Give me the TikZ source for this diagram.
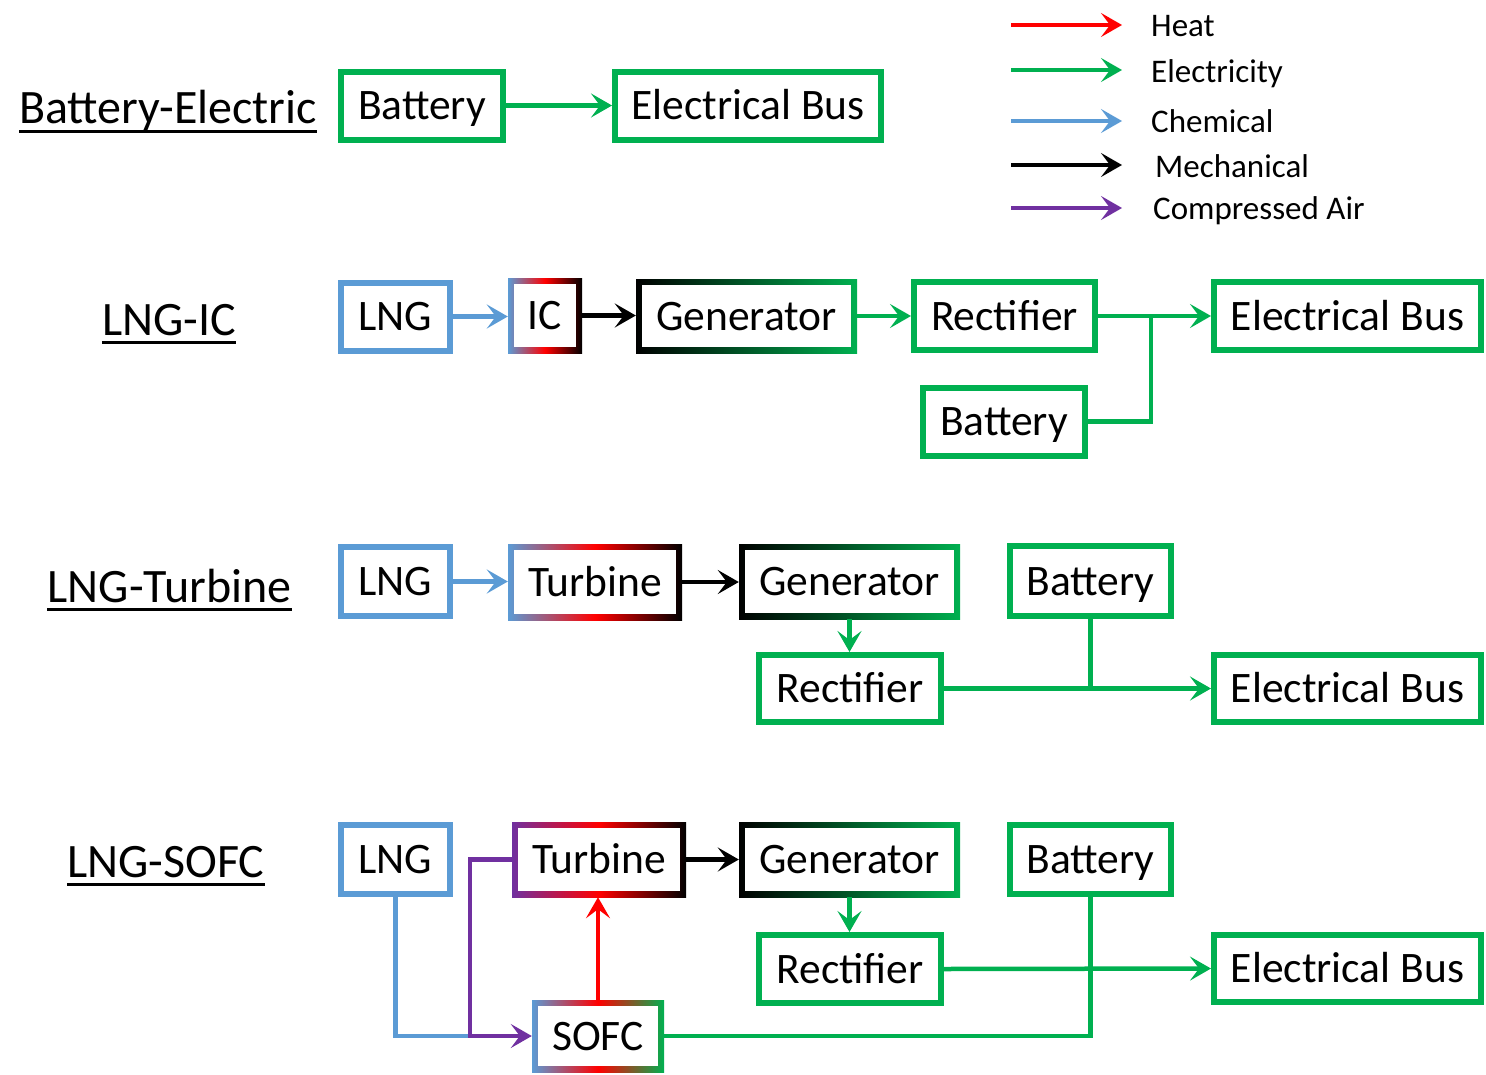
\documentclass[tikz,border=0pt]{standalone}
\usepackage{fontspec}
\setmainfont{Carlito}
\usetikzlibrary{arrows.meta}
\definecolor{elec}{RGB}{0,176,80}
\definecolor{chem}{RGB}{91,155,213}
\definecolor{air}{RGB}{112,48,160}
\definecolor{heat}{RGB}{255,0,0}
\newcommand\boxfont{\fontsize{43.5}{50}\selectfont}
\newcommand\lblfont{\fontsize{48}{56}\selectfont}
\newcommand\legfont{\fontsize{33}{40}\selectfont}
\begin{document}
\begin{tikzpicture}[x=1pt,y=-1pt,
  box/.style={rectangle, draw=elec, line width=6pt, fill=white, minimum height=68pt,
    inner sep=0pt, font=\boxfont, text height=28pt, text depth=0pt},
  gbox/.style={rectangle, minimum height=74pt, inner sep=0pt, font=\boxfont,
    text height=28pt, text depth=0pt,
    path picture={\fill[white] ([shift={(6pt,-6pt)}]path picture bounding box.north west)
      rectangle ([shift={(-6pt,6pt)}]path picture bounding box.south east);}},
  conn/.style={line width=4.5pt},
  arr/.style={conn, -{Stealth[length=21pt,width=24pt,inset=9pt]}},
  lbl/.style={anchor=base, inner sep=0pt, font=\lblfont},
  leg/.style={anchor=west, inner sep=0pt, font=\legfont, text height=21pt, text depth=0pt},
  uline/.style={line width=3pt}
]
\useasboundingbox (0,0) rectangle (1486,1074);

% ---------- Legend ----------
\coordinate (l1a) at (1011,25);  \coordinate (l1b) at (1122,25);
\coordinate (l2a) at (1011,70);  \coordinate (l2b) at (1122,70);
\coordinate (l3a) at (1011,121); \coordinate (l3b) at (1122,121);
\coordinate (l4a) at (1011,165); \coordinate (l4b) at (1122,165);
\coordinate (l5a) at (1011,208); \coordinate (l5b) at (1122,208);
\draw[arr, heat] (l1a) -- (l1b);
\draw[arr, elec] (l2a) -- (l2b);
\draw[arr, chem] (l3a) -- (l3b);
\draw[arr, black] (l4a) -- (l4b);
\draw[arr, air] (l5a) -- (l5b);
\node[leg] (t1) at (1151,26) {Heat};
\node[leg] (t2) at (1151,72) {Electricity};
\node[leg] (t3) at (1151,122) {Chemical};
\node[leg] (t4) at (1155,167) {Mechanical};
\node[leg] (t5) at (1153,209) {Compressed Air};

% ---------- Left labels ----------
\node[lbl] (lbe) at (168,123) {Battery-Electric};
\node[lbl] (lic) at (169,335) {LNG-IC};
\node[lbl] (ltu) at (169.5,602) {LNG-Turbine};
\node[lbl] (lso) at (166,877) {LNG-SOFC};
\draw[uline] ([yshift=-8pt]lbe.base west) -- ([yshift=-8pt]lbe.base east);
\draw[uline] ([yshift=-7pt]lic.base west) -- ([yshift=-7pt]lic.base east);
\draw[uline] ([yshift=-7pt]ltu.base west) -- ([yshift=-7pt]ltu.base east);
\draw[uline] ([yshift=-7pt]lso.base west) -- ([yshift=-7pt]lso.base east);

% ---------- Row 1: Battery-Electric ----------
\node[box, minimum width=162pt] (bebat) at (422,105.5) {Battery};
\node[box, minimum width=266pt] (bebus) at (748,105.5) {Electrical Bus};
\draw[arr, elec] (bebat.east) -- (bebus.west);

% ---------- Row 2: LNG-IC ----------
\node[box, draw=chem, minimum width=109pt] (iclng) at (395.5,316.5) {LNG};
\node[gbox, minimum width=74pt, minimum height=75pt, left color=chem, right color=black, middle color=heat] (icic) at (545,315.5) {IC};
\node[gbox, minimum width=221pt, left color=black, right color=elec] (icgen) at (746.5,316) {Generator};
\node[box, minimum width=181pt] (icrect) at (1004.5,316) {Rectifier};
\node[box, minimum width=267pt] (icbus) at (1347.5,316) {Electrical Bus};
\node[box, minimum width=162pt] (icbat) at (1004,421.5) {Battery};
\coordinate (icj) at (1151,316);
\draw[arr, chem] (iclng.east) -- (iclng.east -| icic.west);
\draw[arr, black] (icic.east) -- (icic.east -| icgen.west);
\draw[arr, elec] (icgen.east) -- (icrect.west);
\draw[arr, elec] (icrect.east) -- (icbus.west);
\draw[conn, elec] (icbat.east) -| (icj);

% ---------- Row 3: LNG-Turbine ----------
\node[box, draw=chem, minimum width=109pt, minimum height=69pt] (tulng) at (395.5,581.5) {LNG};
\node[gbox, minimum width=174pt, minimum height=76pt, left color=chem, right color=black, middle color=heat] (tutur) at (595,582) {Turbine};
\node[gbox, minimum width=221pt, minimum height=75pt, left color=black, right color=elec] (tugen) at (849.5,581.5) {Generator};
\node[box, minimum width=161pt, minimum height=70pt] (tubat) at (1090.5,581) {Battery};
\node[box, minimum width=182pt, minimum height=67pt] (turect) at (850,688.5) {Rectifier};
\node[box, minimum width=267pt, minimum height=67pt] (tubus) at (1347.5,688.5) {Electrical Bus};
\draw[arr, chem] (tulng.east) -- (tulng.east -| tutur.west);
\draw[arr, black] (tutur.east) -- (tutur.east -| tugen.west);
\draw[arr, elec] (tugen.south) -- (tugen.south |- turect.north);
\draw[arr, elec] (turect.east) -- (tubus.west);
\draw[conn, elec] (tubat.south) -- (tubat.south |- turect.east);

% ---------- Row 4: LNG-SOFC ----------
\node[box, draw=chem, minimum width=109pt, minimum height=69pt] (solng) at (395.5,859.5) {LNG};
\node[gbox, minimum width=174pt, minimum height=75pt, left color=air, right color=black, middle color=heat] (sotur) at (599,859.5) {Turbine};
\node[gbox, minimum width=221pt, minimum height=75pt, left color=black, right color=elec] (sogen) at (849.5,859.5) {Generator};
\node[box, minimum width=161pt, minimum height=69pt] (sobat) at (1090.5,859.5) {Battery};
\node[box, minimum width=182pt, minimum height=68pt] (sorect) at (850,969) {Rectifier};
\node[box, minimum width=267pt, minimum height=67pt] (sobus) at (1347.5,968.5) {Electrical Bus};
\node[gbox, minimum width=132pt, minimum height=72pt, left color=chem, right color=elec, middle color=heat] (sosofc) at (598,1036) {SOFC};
\coordinate (sop) at (470,1036);
\draw[conn, chem] (solng.south) |- (sop);
\draw[arr, air] (sotur.west) -| (sop) -- (sosofc.west);
\draw[arr, heat] (sosofc.north) -- (sosofc.north |- sotur.south);
\draw[arr, black] (sotur.east) -- (sotur.east -| sogen.west);
\draw[arr, elec] (sogen.south) -- (sogen.south |- sorect.north);
\draw[arr, elec] (sorect.east) -- (sobus.west);
\draw[conn, elec] (sosofc.east) -| (sobat.south);
\end{tikzpicture}
\end{document}
